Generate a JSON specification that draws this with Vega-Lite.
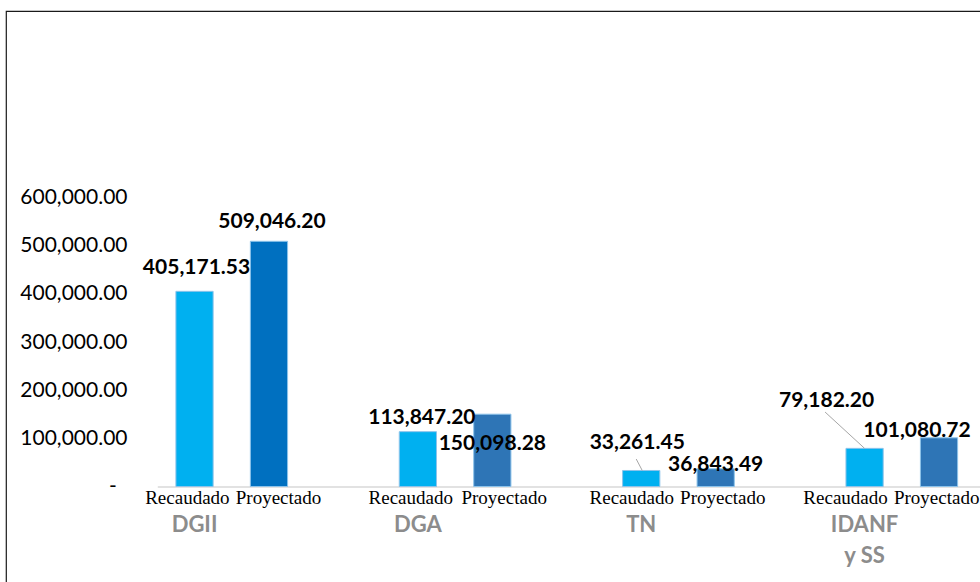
{
  "$schema": "https://vega.github.io/schema/vega-lite/v6.json",
  "width": 990,
  "height": 590,
  "autosize": {"type": "none"},
  "padding": {"left": 6, "top": 11, "right": 0, "bottom": 0},
  "background": "white",
  "config": {"view": {"stroke": "#1a1a1a", "strokeWidth": 1.2}},
  "data": {
    "values": [
      {"slot": "DGII|R", "grupo": "DGII", "tipo": "Recaudado", "valor": 405171.53},
      {"slot": "DGII|P", "grupo": "DGII", "tipo": "Proyectado", "valor": 509046.20},
      {"slot": "DGA|R", "grupo": "DGA", "tipo": "Recaudado", "valor": 113847.20},
      {"slot": "DGA|P", "grupo": "DGA", "tipo": "Proyectado", "valor": 150098.28},
      {"slot": "TN|R", "grupo": "TN", "tipo": "Recaudado", "valor": 33261.45},
      {"slot": "TN|P", "grupo": "TN", "tipo": "Proyectado", "valor": 36843.49},
      {"slot": "IDANF|R", "grupo": "IDANF y SS", "tipo": "Recaudado", "valor": 79182.20},
      {"slot": "IDANF|P", "grupo": "IDANF y SS", "tipo": "Proyectado", "valor": 101080.72}
    ]
  },
  "encoding": {
    "x": {
      "field": "slot", "type": "nominal",
      "scale": {"domain": ["DGII|R","DGII|P","b1","DGA|R","DGA|P","b2","TN|R","TN|P","b3","IDANF|R","IDANF|P","b4"], "range": [151.3, 1044.7], "paddingInner": 0.5, "paddingOuter": 0.25},
      "axis": null
    },
    "y": {
      "field": "valor", "type": "quantitative",
      "scale": {"domain": [0, 600000], "range": [475.5, 186.5], "nice": false, "zero": true},
      "axis": {
        "title": null, "values": [0, 100000, 200000, 300000, 400000, 500000, 600000],
        "domain": false, "ticks": false, "grid": false,
        "labelFont": "Lato", "labelFontSize": 21, "labelColor": "#000",
        "labelPadding": 0, "offset": -121,
        "labelExpr": "datum.value == 0 ? '-\u00a0\u00a0\u200b' : format(datum.value, ',.2f')"
      }
    }
  },
  "layer": [
    {
      "mark": {"type": "bar", "stroke": "#8DC3EA", "strokeWidth": 1},
      "encoding": {
        "x": {
          "field": "slot", "type": "nominal",
          "scale": {"domain": ["DGII|R","DGII|P","b1","DGA|R","DGA|P","b2","TN|R","TN|P","b3","IDANF|R","IDANF|P","b4"], "range": [151.3, 1044.7], "paddingInner": 0.5, "paddingOuter": 0.25},
          "axis": {
            "title": null, "orient": "bottom", "offset": -114.5,
            "domainColor": "#D9D9D9", "domainWidth": 1.5, "ticks": false,
            "labelFont": "Liberation Serif", "labelFontSize": 19, "labelColor": "#000",
            "labelPadding": 1.5, "labelAngle": 0, "labelOverlap": false,
            "labelExpr": "datum.value == 'DGII|R' ? 'Recaudado\u00a0\u00a0\u00a0\u200b' : datum.value == 'DGII|P' ? '\u200b\u00a0\u00a0\u00a0\u00a0Proyectado' : datum.value == 'DGA|R' ? 'Recaudado\u00a0\u00a0\u00a0\u200b' : datum.value == 'DGA|P' ? '\u200b\u00a0\u00a0\u00a0\u00a0\u00a0Proyectado' : datum.value == 'TN|R' ? 'Recaudado\u00a0\u00a0\u00a0\u00a0\u200b' : datum.value == 'TN|P' ? '\u200b\u00a0\u00a0\u00a0Proyectado' : datum.value == 'IDANF|R' ? 'Recaudado\u00a0\u00a0\u00a0\u00a0\u00a0\u00a0\u00a0\u00a0\u200b' : datum.value == 'IDANF|P' ? 'Proyectado\u00a0\u200b' : ''"
          }
        },
        "color": {
          "field": "slot", "type": "nominal", "legend": null,
          "scale": {"domain": ["DGII|R","DGII|P","DGA|R","DGA|P","TN|R","TN|P","IDANF|R","IDANF|P"], "range": ["#00B0F0","#0070C0","#00B0F0","#2E75B6","#00B0F0","#2E75B6","#00B0F0","#2E75B6"]}
        }
      }
    },
    {
      "transform": [{"filter": "datum.slot == 'TN|R'"}],
      "mark": {"type": "rule", "color": "#A6A6A6", "strokeWidth": 1, "xOffset": 1, "x2Offset": -5},
      "encoding": {
        "x2": {"field": "slot", "bandPosition": 0.5},
        "y2": {"datum": 57000}
      }
    },
    {
      "transform": [{"filter": "datum.slot == 'IDANF|R'"}],
      "mark": {"type": "rule", "color": "#A6A6A6", "strokeWidth": 1, "xOffset": 0, "x2Offset": -39.5},
      "encoding": {
        "x2": {"field": "slot", "bandPosition": 0.5},
        "y2": {"datum": 154600}
      }
    },
    {
      "transform": [{"filter": "datum.slot == 'DGII|R'"}],
      "mark": {"type": "text", "font": "Lato", "fontWeight": "bold", "fontSize": 21, "color": "#000", "baseline": "middle", "dx": 2, "dy": -23},
      "encoding": {
        "text": {"field": "valor", "type": "quantitative", "format": ",.2f"},
        "x": {
          "field": "slot", "type": "nominal",
          "scale": {"domain": ["DGII|R","DGII|P","b1","DGA|R","DGA|P","b2","TN|R","TN|P","b3","IDANF|R","IDANF|P","b4"], "range": [151.3, 1044.7], "paddingInner": 0.5, "paddingOuter": 0.25},
          "axis": {
            "title": null, "orient": "bottom", "offset": -114.5,
            "domain": false, "ticks": false,
            "labelFont": "Lato", "labelFontWeight": "bold", "labelFontSize": 22, "labelColor": "#8C8C8C",
            "labelPadding": 28, "labelLineHeight": 31, "labelAngle": 0, "labelOverlap": false,
            "labelExpr": "datum.value == 'DGII|R' ? 'DGII' : datum.value == 'DGA|R' ? 'DGA' : datum.value == 'TN|R' ? 'TN' : datum.value == 'IDANF|R' ? ['IDANF', 'y SS'] : ''"
          }
        }
      }
    },
    {
      "transform": [{"filter": "datum.slot == 'DGII|P'"}],
      "mark": {"type": "text", "font": "Lato", "fontWeight": "bold", "fontSize": 21, "color": "#000", "baseline": "middle", "dx": 3, "dy": -19},
      "encoding": {"text": {"field": "valor", "type": "quantitative", "format": ",.2f"}}
    },
    {
      "transform": [{"filter": "datum.slot == 'DGA|R'"}],
      "mark": {"type": "text", "font": "Lato", "fontWeight": "bold", "fontSize": 21, "color": "#000", "baseline": "middle", "dx": 4, "dy": -14},
      "encoding": {"text": {"field": "valor", "type": "quantitative", "format": ",.2f"}}
    },
    {
      "transform": [{"filter": "datum.slot == 'DGA|P'"}],
      "mark": {"type": "text", "font": "Lato", "fontWeight": "bold", "fontSize": 21, "color": "#000", "baseline": "middle", "dx": 0, "dy": 30},
      "encoding": {"text": {"field": "valor", "type": "quantitative", "format": ",.2f"}}
    },
    {
      "transform": [{"filter": "datum.slot == 'TN|R'"}],
      "mark": {"type": "text", "font": "Lato", "fontWeight": "bold", "fontSize": 21, "color": "#000", "baseline": "middle", "dx": -4, "dy": -27},
      "encoding": {"text": {"field": "valor", "type": "quantitative", "format": ",.2f"}}
    },
    {
      "transform": [{"filter": "datum.slot == 'TN|P'"}],
      "mark": {"type": "text", "font": "Lato", "fontWeight": "bold", "fontSize": 21, "color": "#000", "baseline": "middle", "dx": 0, "dy": -4},
      "encoding": {"text": {"field": "valor", "type": "quantitative", "format": ",.2f"}}
    },
    {
      "transform": [{"filter": "datum.slot == 'IDANF|R'"}],
      "mark": {"type": "text", "font": "Lato", "fontWeight": "bold", "fontSize": 21, "color": "#000", "baseline": "middle", "dx": -38, "dy": -47},
      "encoding": {"text": {"field": "valor", "type": "quantitative", "format": ",.2f"}}
    },
    {
      "transform": [{"filter": "datum.slot == 'IDANF|P'"}],
      "mark": {"type": "text", "font": "Lato", "fontWeight": "bold", "fontSize": 21, "color": "#000", "baseline": "middle", "dx": -22, "dy": -7},
      "encoding": {"text": {"field": "valor", "type": "quantitative", "format": ",.2f"}}
    }
  ],
  "resolve": {"axis": {"x": "independent"}}
}
